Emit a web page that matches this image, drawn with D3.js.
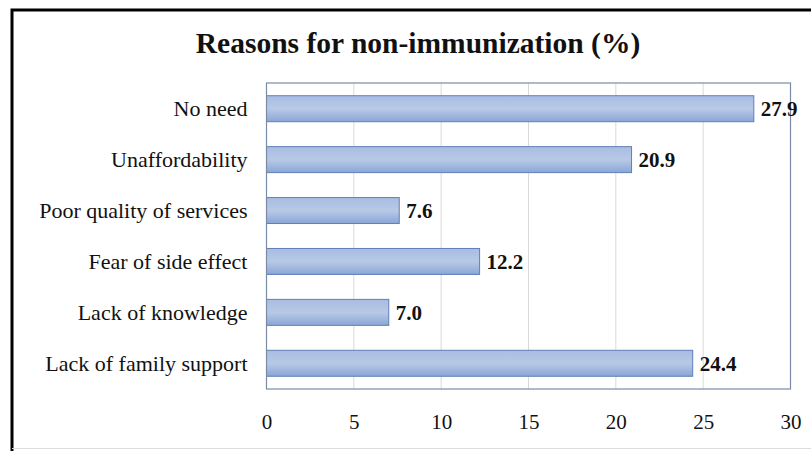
<!DOCTYPE html>
<html><head><meta charset="utf-8">
<script src="https://cdn.jsdelivr.net/npm/d3@7"></script>
<style>body{margin:0;background:#fff}</style>
</head><body>
<svg id="c" width="811" height="451"></svg>
<script>
const categories = ["No need","Unaffordability","Poor quality of services","Fear of side effect","Lack of knowledge","Lack of family support"];
const values = [27.9, 20.9, 7.6, 12.2, 7.0, 24.4];
const xTicks = [0,5,10,15,20,25,30];
const title = "Reasons for non-immunization  (%)";

const svg = d3.select("#c");
const font = "'Liberation Serif','Times New Roman',serif";
const pLeft = 266.5, pRight = 790.5, pTop = 83, pBottom = 389;

const defs = svg.append("defs");
const g = defs.append("linearGradient").attr("id","bg").attr("x1",0).attr("y1",0).attr("x2",0).attr("y2",1);
g.append("stop").attr("offset","0%").attr("stop-color","#a9bde2");
g.append("stop").attr("offset","50%").attr("stop-color","#b8c9e6");
g.append("stop").attr("offset","100%").attr("stop-color","#8aa6d6");

// outer frame
svg.append("path").attr("d","M12,451 L12,10 L811,10").attr("fill","none").attr("stroke","#000").attr("stroke-width",3);
svg.append("line").attr("x1",12).attr("x2",811).attr("y1",448.5).attr("y2",448.5).attr("stroke","#ddd").attr("stroke-width",1);

svg.append("text").attr("x",418).attr("y",53).attr("text-anchor","middle")
  .style("font-family",font).style("font-weight","bold").style("font-size","29.5px").attr("fill","#111").text(title);

const x = d3.scaleLinear().domain([0,30]).range([pLeft,pRight]);
const y = d3.scaleBand().domain(categories).range([pTop,pBottom]).paddingInner(0.49).paddingOuter(0.25);

// gridlines
svg.append("g").selectAll("line").data(xTicks.slice(1,-1)).join("line")
  .attr("x1",d=>x(d)).attr("x2",d=>x(d)).attr("y1",pTop).attr("y2",pBottom)
  .attr("stroke","#d9d9d9").attr("stroke-width",1);

// bars
svg.append("g").selectAll("rect").data(values).join("rect")
  .attr("x",x(0)).attr("y",(d,i)=>y(categories[i]))
  .attr("width",d=>x(d)-x(0)).attr("height",y.bandwidth())
  .attr("fill","url(#bg)").attr("stroke","#5f7fb8").attr("stroke-width",1);

// plot frame
svg.append("rect").attr("x",pLeft).attr("y",pTop).attr("width",pRight-pLeft).attr("height",pBottom-pTop)
  .attr("fill","none").attr("stroke","#7a8ba6").attr("stroke-width",1.2);

// data labels
svg.append("g").selectAll("text").data(values).join("text")
  .attr("x",d=>x(d)+7).attr("y",(d,i)=>y(categories[i])+y.bandwidth()/2+7.5)
  .style("font-family",font).style("font-weight","bold").style("font-size","21px").attr("fill","#111")
  .text(d=>d.toFixed(1));

// y axis labels
const ya = d3.axisLeft(y).tickSize(0).tickPadding(19);
const yg = svg.append("g").attr("transform",`translate(${pLeft},0)`).call(ya);
yg.select(".domain").remove();
yg.selectAll("text").style("font-family",font).style("font-size","22px").attr("fill","#111").attr("dy","0.33em");

// x axis
const xa = d3.axisBottom(x).tickValues(xTicks).tickSize(0).tickPadding(25).tickFormat(d3.format("d"));
const xg = svg.append("g").attr("transform",`translate(0,${pBottom})`).call(xa);
xg.select(".domain").remove();
xg.selectAll("text").style("font-family",font).style("font-size","21px").attr("fill","#111");
</script>
</body></html>
